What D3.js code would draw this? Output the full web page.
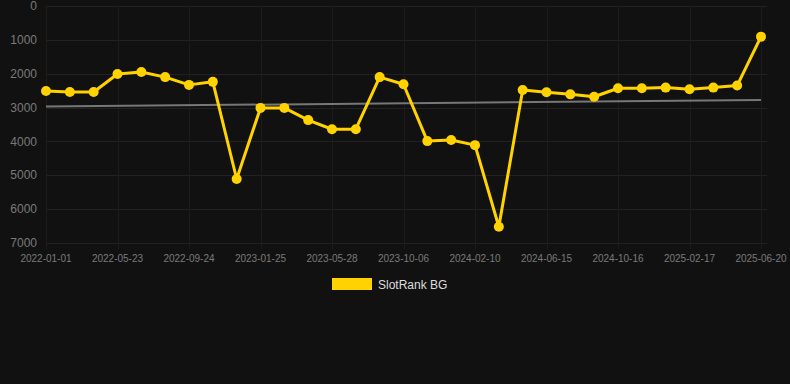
<!DOCTYPE html>
<html>
<head>
<meta charset="utf-8">
<script src="https://cdn.jsdelivr.net/npm/d3@7"></script>
<style>
  html, body { margin: 0; padding: 0; background: #111111; }
  svg { display: block; font-family: "Liberation Sans", Arial, sans-serif; }
</style>
</head>
<body>
<div id="chart"></div>
<script>
// tick labels shown on the x axis (every third point)
const tickLabels = ["2022-01-01", "2022-05-23", "2022-09-24", "2023-01-25", "2023-05-28",
  "2023-10-06", "2024-02-10", "2024-06-15", "2024-10-16", "2025-02-17", "2025-06-20"];

// rank values, one per point
const rankValues = [2510, 2540, 2540, 2010, 1950, 2100, 2330, 2240, 5110, 3010,
  3010, 3370, 3640, 3640, 2100, 2310, 3990, 3960, 4110, 6520,
  2480, 2550, 2610, 2680, 2430, 2430, 2410, 2460, 2410, 2350, 905];

// trend line at first and last point
const trendValues = [2970, 2775];

const yTicks = [0, 1000, 2000, 3000, 4000, 5000, 6000, 7000];

const width = 790, height = 384;
const margin = { left: 46, right: 29, top: 6, bottom: 141 };

const svg = d3.select("#chart").append("svg")
    .attr("width", width)
    .attr("height", height);

const x = d3.scalePoint()
    .domain(d3.range(rankValues.length))
    .range([margin.left, width - margin.right]);

const y = d3.scaleLinear()
    .domain([0, 7000])
    .range([margin.top, height - margin.bottom]);

// grid
svg.append("g")
    .attr("stroke", "#222")
    .attr("stroke-width", 1)
    .selectAll("line")
    .data(yTicks)
    .join("line")
    .attr("x1", margin.left)
    .attr("x2", width - margin.right + 6)
    .attr("y1", d => Math.round(y(d)) + 0.5)
    .attr("y2", d => Math.round(y(d)) + 0.5);

const tickIdx = tickLabels.map((d, i) => i * 3);

svg.append("g")
    .attr("stroke", "#1c1c1c")
    .selectAll("line")
    .data(tickIdx)
    .join("line")
    .attr("x1", d => Math.round(x(d)) + 0.5)
    .attr("x2", d => Math.round(x(d)) + 0.5)
    .attr("y1", margin.top)
    .attr("y2", y(7000) + 6);

// y labels
svg.append("g")
    .attr("fill", "#7a7a7a")
    .attr("font-size", 12)
    .attr("text-anchor", "end")
    .selectAll("text")
    .data(yTicks)
    .join("text")
    .attr("x", 37)
    .attr("y", d => y(d))
    .attr("dy", "0.35em")
    .text(d => d);

// x labels
svg.append("g")
    .attr("fill", "#7a7a7a")
    .attr("font-size", 10)
    .attr("text-anchor", "middle")
    .selectAll("text")
    .data(tickIdx)
    .join("text")
    .attr("x", d => x(d))
    .attr("y", 262)
    .text((d, i) => tickLabels[i]);

// trend line
svg.append("line")
    .attr("x1", x(0))
    .attr("x2", x(rankValues.length - 1))
    .attr("y1", y(trendValues[0]))
    .attr("y2", y(trendValues[1]))
    .attr("stroke", "#777")
    .attr("stroke-width", 2);

// series
const line = d3.line()
    .x((d, i) => x(i))
    .y(d => y(d));

svg.append("path")
    .datum(rankValues)
    .attr("fill", "none")
    .attr("stroke", "#ffd200")
    .attr("stroke-width", 3)
    .attr("stroke-linejoin", "round")
    .attr("d", line);

svg.append("g")
    .attr("fill", "#ffd200")
    .selectAll("circle")
    .data(rankValues)
    .join("circle")
    .attr("cx", (d, i) => x(i))
    .attr("cy", d => y(d))
    .attr("r", 5);

// legend
svg.append("rect")
    .attr("x", 332)
    .attr("y", 278)
    .attr("width", 40)
    .attr("height", 12)
    .attr("fill", "#ffd200");

svg.append("text")
    .attr("x", 378)
    .attr("y", 289)
    .attr("fill", "#dddddd")
    .attr("font-size", 12)
    .text("SlotRank BG");
</script>
</body>
</html>
